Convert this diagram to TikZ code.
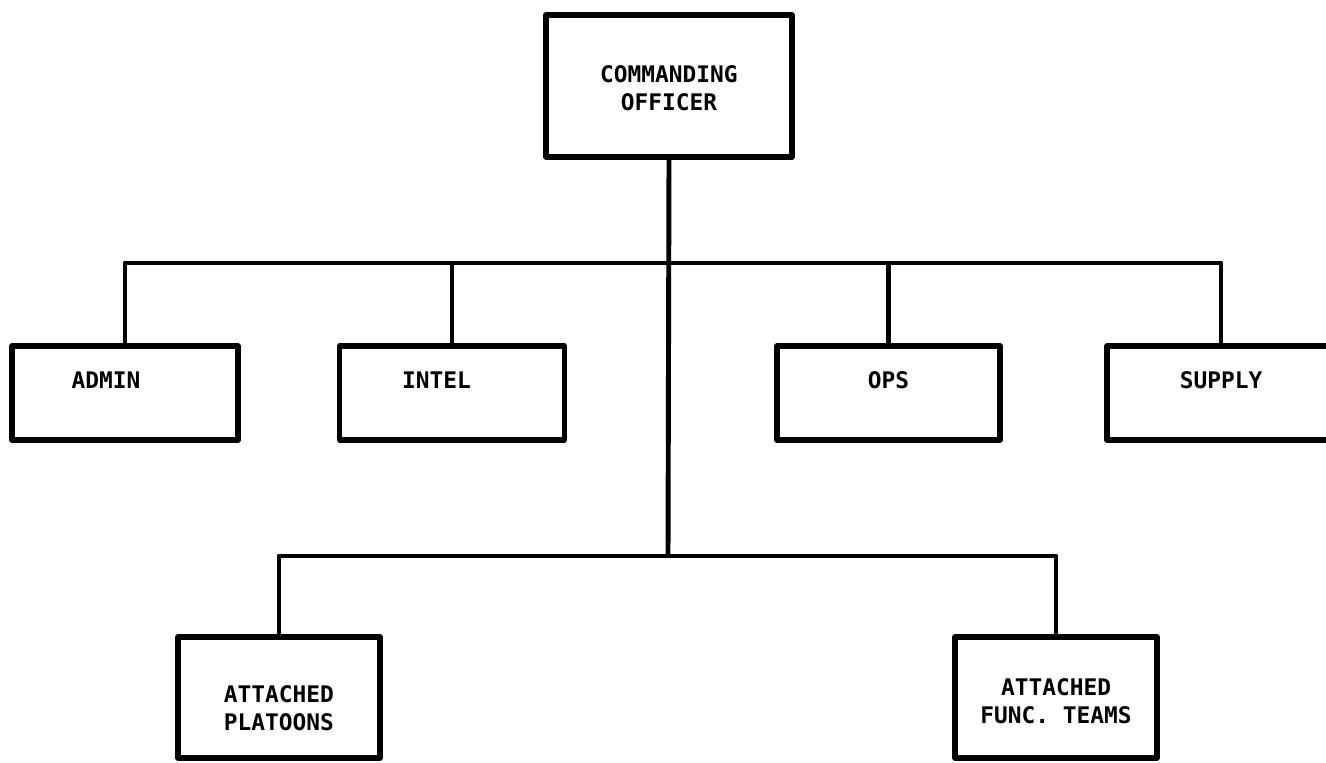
\documentclass[tikz,border=0pt]{standalone}
\usepackage{fontspec}
\newfontfamily\orgfont{DejaVu Sans Mono}
\begin{document}
\begin{tikzpicture}[x=0.02cm,y=-0.02cm]
%styles
\tikzstyle{unitbox}=[draw,rectangle,line width=3pt,line join=round,inner sep=0pt,
                     font=\orgfont\bfseries\fontsize{13}{16}\selectfont,align=center]
\tikzstyle{staffbox}=[unitbox,minimum width=4.5cm,text height=0.85cm,text depth=1.03cm]
\tikzstyle{attbox}=[unitbox,minimum width=4.04cm]
\tikzstyle{link}=[line width=2.8pt,line join=round]
\useasboundingbox (0,0) rectangle (1326,762);

%commanding officer
\node[unitbox,minimum width=4.92cm,text height=1.91cm,text depth=0.93cm] (co) at (669,86) {COMMANDING\\OFFICER};

%staff sections
\node[staffbox,text width=2.14cm,inner xsep=1.19cm,align=left] (admin) at (125,393) {ADMIN};
\node[staffbox,text width=2cm,inner xsep=1.2cm,align=left] (intel) at (452,393) {INTEL};
\node[staffbox,minimum width=4.46cm] (ops) at (888.5,393) {OPS};
\node[staffbox,minimum width=4.56cm] (supply) at (1221,393) {SUPPLY};

%attached elements
\node[attbox,text height=1.87cm,text depth=0.55cm] (platoons) at (279,697.5) {ATTACHED\\PLATOONS};
\node[attbox,text height=1.73cm,text depth=0.69cm] (teams) at (1056,697.5) {ATTACHED\\FUNC. TEAMS};

%lines
\coordinate (topbus) at (668,263);
\coordinate (lowbus) at (668,556);
\draw[link] (co.south) -- (lowbus);
\draw[link] (admin.north) |- (topbus) -| (supply.north);
\draw[link] (intel.north) -- (intel.north |- topbus);
\draw[link] (ops.north) -- (ops.north |- topbus);
\draw[link] (platoons.north) |- (lowbus) -| (teams.north);

\end{tikzpicture}
\end{document}
